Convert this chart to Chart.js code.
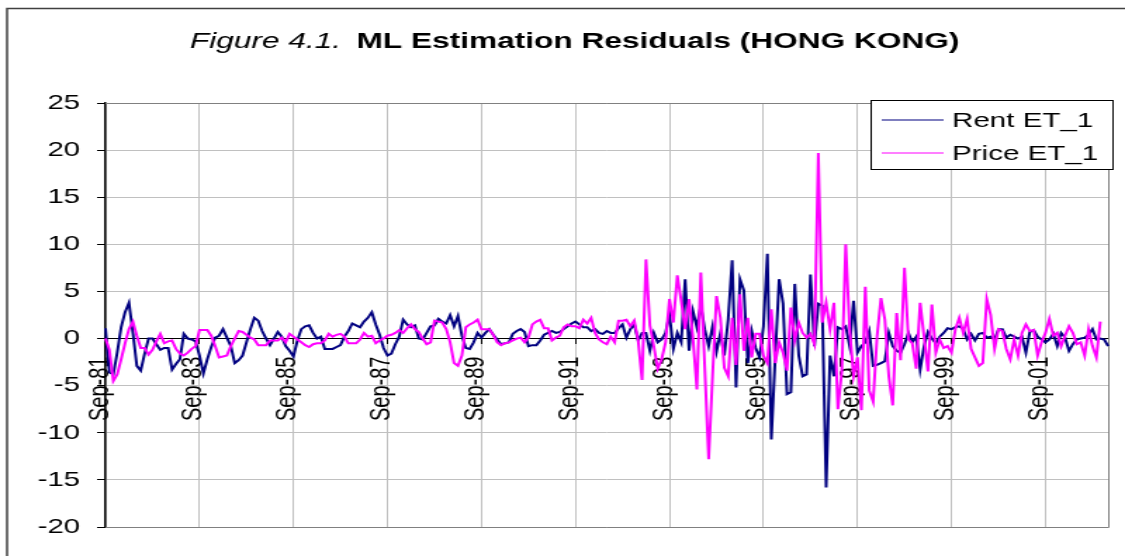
<!DOCTYPE html>
<html>
<head>
<meta charset="utf-8">
<title>ML Estimation Residuals (HONG KONG)</title>
<script src="https://cdn.jsdelivr.net/npm/chart.js@4.4.1/dist/chart.umd.min.js"></script>
<style>
  body { margin: 0; background: #fff; }
</style>
</head>
<body>
<!-- drawn at 800px wide and stretched to the page width, like the original picture -->
<canvas id="residualChart" width="800" height="556" style="width:1125px;height:556px;display:block"></canvas>
<script>
// Monthly ML estimation residuals, starting Sep-81
const rentResiduals = [
  1.1, -3.6, -3.8, -1.5, 1.2, 2.8, 3.8, 0.6, -2.9, -3.4,
  -1.6, 0.0, 0.0, -0.6, -1.2, -1.0, -1.0, -3.3, -2.7, -2.2,
  0.5, 0.0, -0.1, -0.3, -1.8, -3.7, -2.2, -0.9, 0.1, 0.3,
  1.0, 0.1, -0.8, -2.6, -2.3, -1.8, -0.4, 1.0, 2.2, 1.9,
  0.8, 0.0, -0.7, 0.0, 0.7, 0.2, -0.8, -1.3, -1.9, -0.2,
  1.0, 1.3, 1.4, 0.6, 0.0, 0.2, -1.1, -1.1, -1.1, -0.9,
  -0.7, 0.2, 0.8, 1.6, 1.4, 1.2, 1.8, 2.2, 2.8, 1.5,
  0.4, -1.0, -1.8, -1.6, -0.6, 0.2, 2.0, 1.5, 1.2, 1.4,
  0.0, -0.1, 0.6, 1.3, 1.4, 2.1, 1.8, 1.6, 2.5, 1.3,
  2.4, 0.3, -1.0, -1.1, -0.4, 0.6, 0.1, 0.6, 1.0, 0.4,
  -0.1, -0.6, -0.5, -0.4, 0.5, 0.8, 1.0, 0.7, -0.8, -0.7,
  -0.7, -0.2, 0.4, 0.6, 0.8, 0.6, 0.7, 1.0, 1.3, 1.6,
  1.8, 1.5, 1.2, 1.2, 0.8, 1.0, 0.6, 0.5, 0.8, 0.6,
  0.6, 1.1, 1.5, 0.1, 1.0, 1.5, -0.2, 0.6, 0.6, -1.3,
  0.6, -0.4, -0.1, 0.6, 2.6, -1.1, 0.6, -0.4, 6.3, -1.3,
  2.9, 1.2, 3.5, 1.0, -0.8, 1.3, -1.4, 0.6, -1.8, 2.1,
  8.3, -5.2, 6.3, 5.1, -2.6, 0.8, -1.0, -2.0, 1.3, 9.0,
  -10.7, -2.0, 6.3, 3.7, -5.9, -5.7, 5.8, -1.8, -4.0, -3.8,
  6.8, -0.8, 3.7, 3.5, -15.8, -1.8, -4.0, 1.2, 1.0, 1.3,
  -0.8, 4.0, -1.5, -0.8, -0.4, 0.8, -2.9, -2.8, -2.6, -2.4,
  0.6, -0.8, -1.3, -1.5, -0.6, 0.6, -0.4, 0.2, -3.3, -0.8,
  0.7, 0.0, -0.5, 0.2, 0.6, 1.1, 1.0, 1.2, 1.3, 1.0,
  -0.1, 0.5, -0.2, 0.5, 0.6, 0.1, 0.2, -0.1, 1.0, 1.0,
  0.1, 0.4, 0.2, 0.0, 0.2, -1.5, 0.7, 0.9, 0.2, -0.1,
  -0.4, -0.1, 0.5, -0.8, 0.6, 0.1, -1.3, -0.6, -0.1, 0.0,
  0.1, 0.4, 1.0, -0.1, 0.0, -0.1, -0.8
];

const priceResiduals = [
  0.0, -1.2, -4.5, -3.8, -2.2, -0.5, 1.0, 1.8, 0.3, -1.0,
  -1.0, -1.7, -1.2, -0.3, 0.5, -0.5, -0.3, -0.2, -1.1, -1.6,
  -1.8, -1.5, -1.1, -0.8, 0.9, 0.9, 0.9, 0.3, -0.8, -2.0,
  -1.9, -1.8, -0.8, 0.0, 0.8, 0.7, 0.4, 0.1, -0.1, -0.7,
  -0.7, -0.7, -0.2, -0.2, -0.2, 0.1, -0.4, 0.5, 0.2, -0.1,
  -0.4, -0.7, -0.9, -0.6, -0.5, -0.5, -0.2, 0.5, 0.2, 0.4,
  0.5, 0.2, -0.5, -0.5, -0.5, -0.1, 0.6, 0.2, 0.3, -0.5,
  -0.2, 0.0, 0.3, 0.4, 0.6, 0.9, 0.6, 1.1, 1.5, 1.0,
  0.7, 0.0, -0.6, -0.4, 1.9, 1.8, 1.7, 1.0, -0.4, -2.6,
  -2.9, -1.8, 1.2, 1.5, 1.7, 2.0, 1.0, 1.0, 1.0, 0.4,
  -0.4, -0.7, -0.5, -0.4, -0.2, 0.0, 0.1, -0.4, 0.1, 1.5,
  1.8, 2.0, 1.1, 1.1, -0.2, 0.1, 0.3, 1.2, 1.5, 1.3,
  1.3, 1.1, 2.0, 1.6, 2.2, 0.6, -0.1, -0.4, -0.6, 0.2,
  -0.4, 1.9, 1.9, 2.0, 1.3, 1.9, -0.2, -4.4, 8.4, 1.4,
  -0.8, -3.2, -2.2, -0.4, 4.2, 1.7, 6.7, 4.0, 1.0, 4.2,
  0.0, -5.4, 7.0, -3.0, -12.8, -4.0, 4.5, 2.2, -3.1, -4.0,
  2.2, -2.8, 4.7, -1.3, 2.2, -2.0, 0.5, 0.5, -1.8, -2.6,
  3.1, -2.6, -0.4, -1.5, -3.4, 3.3, -0.2, 1.7, 0.6, 0.1,
  0.5, -0.6, 19.7, 1.7, 3.8, 1.0, 3.8, -7.5, -3.5, 10.0,
  1.0, -4.0, -2.0, -7.6, 5.5, -5.5, -6.7, 0.2, 4.3, 2.0,
  -4.0, -7.1, 2.7, -2.3, 7.5, -0.1, -0.5, -3.2, 3.8, 0.2,
  -3.5, 3.6, -1.5, -0.1, -1.0, -0.8, -1.5, 1.0, 2.2, 0.6,
  2.1, -1.1, -2.0, -2.9, -2.6, 4.2, 2.5, -1.1, 1.0, 0.8,
  -1.1, -2.2, -0.1, -1.8, 0.6, 1.5, 0.8, 0.9, -1.8, -0.4,
  0.6, 2.1, 0.3, 0.6, -0.8, 0.3, 1.3, 0.6, -0.6, -0.4,
  -1.8, 1.0, -0.8, -2.0, 1.8
];

// category labels: one per month, a tick label every 2 years
const monthNames = ["Jan", "Feb", "Mar", "Apr", "May", "Jun", "Jul", "Aug", "Sep", "Oct", "Nov", "Dec"];
const labelStep = 24;
const months = [];
for (let i = 0; i < rentResiduals.length; i++) {
    const m = 8 + i;
    const yy = (81 + Math.floor(m / 12)) % 100;
    months.push(monthNames[m % 12] + "-" + String(yy).padStart(2, "0"));
}

const FONT = '"Liberation Sans", Arial, sans-serif';

// plot frame, outer border, title and boxed legend
const decorations = {
    id: "decorations",
    beforeDatasetsDraw(chart) {
        const { ctx, chartArea: a } = chart;
        ctx.save();
        ctx.strokeStyle = "#808080";
        ctx.lineWidth = 1;
        ctx.beginPath();
        ctx.moveTo(a.left, a.top + 0.5);
        ctx.lineTo(a.right + 0.5, a.top + 0.5);
        ctx.lineTo(a.right + 0.5, a.bottom + 0.5);
        ctx.lineTo(a.left, a.bottom + 0.5);
        ctx.stroke();
        ctx.restore();
    },
    afterDraw(chart) {
        const ctx = chart.ctx;
        ctx.save();

        // outer border
        ctx.strokeStyle = "#404040";
        ctx.lineWidth = 1.5;
        ctx.beginPath();
        ctx.moveTo(5, 556);
        ctx.lineTo(5, 8.5);
        ctx.lineTo(800, 8.5);
        ctx.stroke();

        // title: italic figure number + bold text
        ctx.fillStyle = "#000";
        ctx.textBaseline = "middle";
        ctx.font = "italic 22.5px " + FONT;
        ctx.fillText("Figure 4.1.", 135, 42);
        const w = ctx.measureText("Figure 4.1.").width;
        ctx.font = "bold 22.5px " + FONT;
        ctx.fillText("ML Estimation Residuals (HONG KONG)", 135 + w + 11, 42);

        // legend box
        const lx = 619, ly = 100, lw = 172, lh = 69;
        ctx.fillStyle = "#fff";
        ctx.fillRect(lx, ly, lw, lh);
        ctx.strokeStyle = "#000";
        ctx.lineWidth = 1;
        ctx.strokeRect(lx + 0.5, ly + 0.5, lw, lh);
        ctx.font = "21px " + FONT;
        chart.data.datasets.forEach((ds, i) => {
            const y = 120 + i * 33;
            ctx.strokeStyle = ds.borderColor;
            ctx.lineWidth = 1.2;
            ctx.beginPath();
            ctx.moveTo(627, y);
            ctx.lineTo(671, y);
            ctx.stroke();
            ctx.fillStyle = "#000";
            ctx.fillText(ds.label, 677, y + 1);
        });
        ctx.restore();
    }
};

const ctx = document.getElementById("residualChart").getContext("2d");
const residualChart = new Chart(ctx, {
    type: "line",
    data: {
        labels: months,
        datasets: [
            {
                label: "Rent ET_1",
                data: rentResiduals,
                borderColor: "#000080",
                borderWidth: 2,
                pointRadius: 0,
                tension: 0,
                order: 1
            },
            {
                label: "Price ET_1",
                data: priceResiduals,
                borderColor: "#FF00FF",
                borderWidth: 2,
                pointRadius: 0,
                tension: 0,
                order: 0
            }
        ]
    },
    options: {
        responsive: false,
        devicePixelRatio: 1,
        animation: false,
        events: [],
        layout: { padding: { left: 0, top: 103, right: 12, bottom: 29 } },
        plugins: {
            legend: { display: false },
            title: { display: false },
            tooltip: { enabled: false }
        },
        scales: {
            x: {
                position: { y: 0 },
                grid: {
                    color: c => (c.tick && c.tick.label ? "#c0c0c0" : "rgba(0,0,0,0)"),
                    tickColor: c => (c.tick && c.tick.label ? "#000" : "rgba(0,0,0,0)"),
                    tickLength: 5,
                    lineWidth: 1
                },
                border: { color: "#000", width: 1 },
                ticks: {
                    autoSkip: false,
                    minRotation: 90,
                    maxRotation: 90,
                    padding: 13,
                    labelOffset: -4,
                    color: "#000",
                    font: { family: FONT, size: 20 },
                    callback: function (value, index) {
                        return index % labelStep === 0 ? this.getLabelForValue(value) : null;
                    }
                },
                afterFit: scale => {
                    scale.paddingLeft = 0;
                    scale.paddingRight = 0;
                }
            },
            y: {
                min: -20,
                max: 25,
                grid: { color: "#c0c0c0", tickColor: "#000", tickLength: 6 },
                border: { color: "#000", width: 1.5 },
                ticks: {
                    stepSize: 5,
                    padding: 12,
                    color: "#000",
                    font: { family: FONT, size: 21 }
                },
                afterFit: scale => {
                    scale.width = 75;
                }
            }
        }
    },
    plugins: [decorations]
});
</script>
</body>
</html>
